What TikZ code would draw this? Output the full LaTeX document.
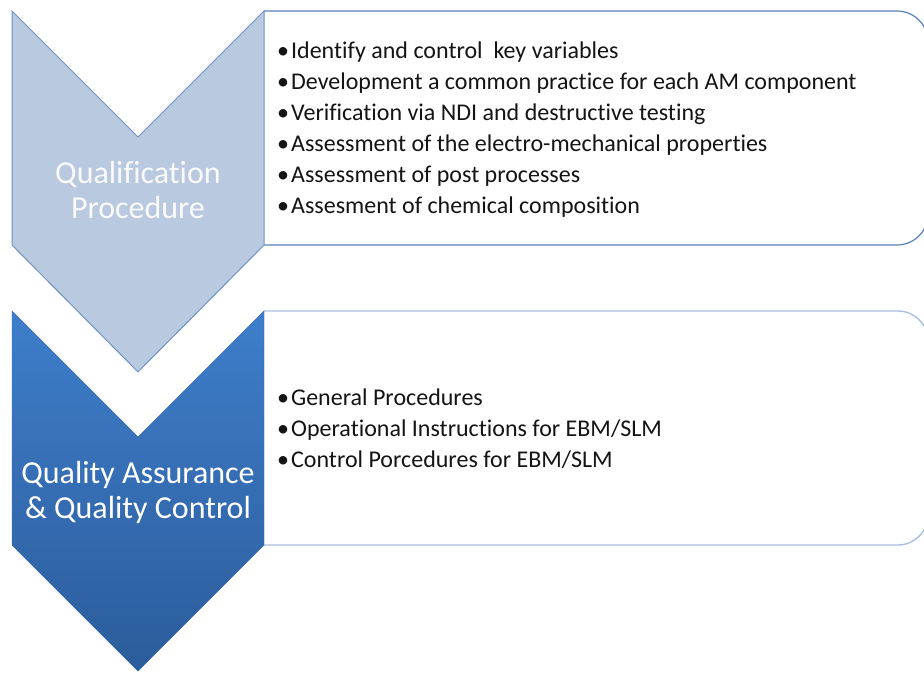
\documentclass[tikz,border=0pt]{standalone}
\usepackage{fontspec}
\setmainfont{Carlito}[Ligatures=NoCommon]
\definecolor{chevAfill}{RGB}{185,201,223}
\definecolor{chevAline}{RGB}{112,146,196}
\definecolor{chevBtop}{RGB}{62,126,203}
\definecolor{chevBbot}{RGB}{44,92,155}
\definecolor{boxAline}{RGB}{84,130,190}
\definecolor{boxBline}{RGB}{168,192,224}
\definecolor{txt}{RGB}{20,20,20}
\newcommand{\bul}{•\kern2pt}
\begin{document}
\begin{tikzpicture}[x=1pt,y=-1pt,
  boxA/.style={draw=boxAline,line width=1.2pt,fill=white,rounded corners=31pt},
  boxB/.style={draw=boxBline,line width=1.4pt,fill=white,rounded corners=30pt},
  chevA/.style={draw=chevAline,line width=1pt,fill=chevAfill},
  chevB/.style={top color=chevBtop,bottom color=chevBbot,draw=chevBtop!85!black,line width=0.4pt},
  item/.style={anchor=base west,inner sep=0pt,text=txt,font=\fontsize{24}{29}\selectfont},
  title/.style={anchor=base,inner sep=0pt,text=white,font=\fontsize{32}{35}\selectfont}]
\useasboundingbox (0,0) rectangle (924,673);
\clip (0,0) rectangle (924,673);
% boxes
\path[boxA] (264,11) -- (928,11) -- (928,245) -- (264,245);
\path[boxB] (264,311) -- (928,311) -- (928,545) -- (264,545);
% chevrons
\path[chevA] (12,11) -- (138,137) -- (264,11) -- (264,245) -- (138,372) -- (12,245) -- cycle;
\shade[chevB] (12,311) -- (138,437) -- (264,311) -- (264,545) -- (138,671) -- (12,545) -- cycle;
% titles
\node[title,text=white!96!gray] (qa1) at (138,183) {Qualification};
\node[title,text=white!96!gray] (qa2) at (138,218) {Procedure};
\node[title] (qb1) at (138,483) {Quality Assurance};
\node[title] (qb2) at (138,518) {\& Quality Control};
% items
\node[item] (a1) at (277,58) {\bul Identify and control\ \ key variables};
\node[item] (a2) at (277,89) {\bul Development a common practice for each AM component};
\node[item] (a3) at (277,120) {\bul Verification via NDI and destructive testing};
\node[item] (a4) at (277,151) {\bul Assessment of the electro-mechanical properties};
\node[item] (a5) at (277,182) {\bul Assessment of post processes};
\node[item] (a6) at (277,213) {\bul Assesment of chemical composition};
\node[item] (b1) at (277,405) {\bul General Procedures};
\node[item] (b2) at (277,436) {\bul Operational Instructions for EBM/SLM};
\node[item] (b3) at (277,467) {\bul Control Porcedures for EBM/SLM};
\end{tikzpicture}
\end{document}
